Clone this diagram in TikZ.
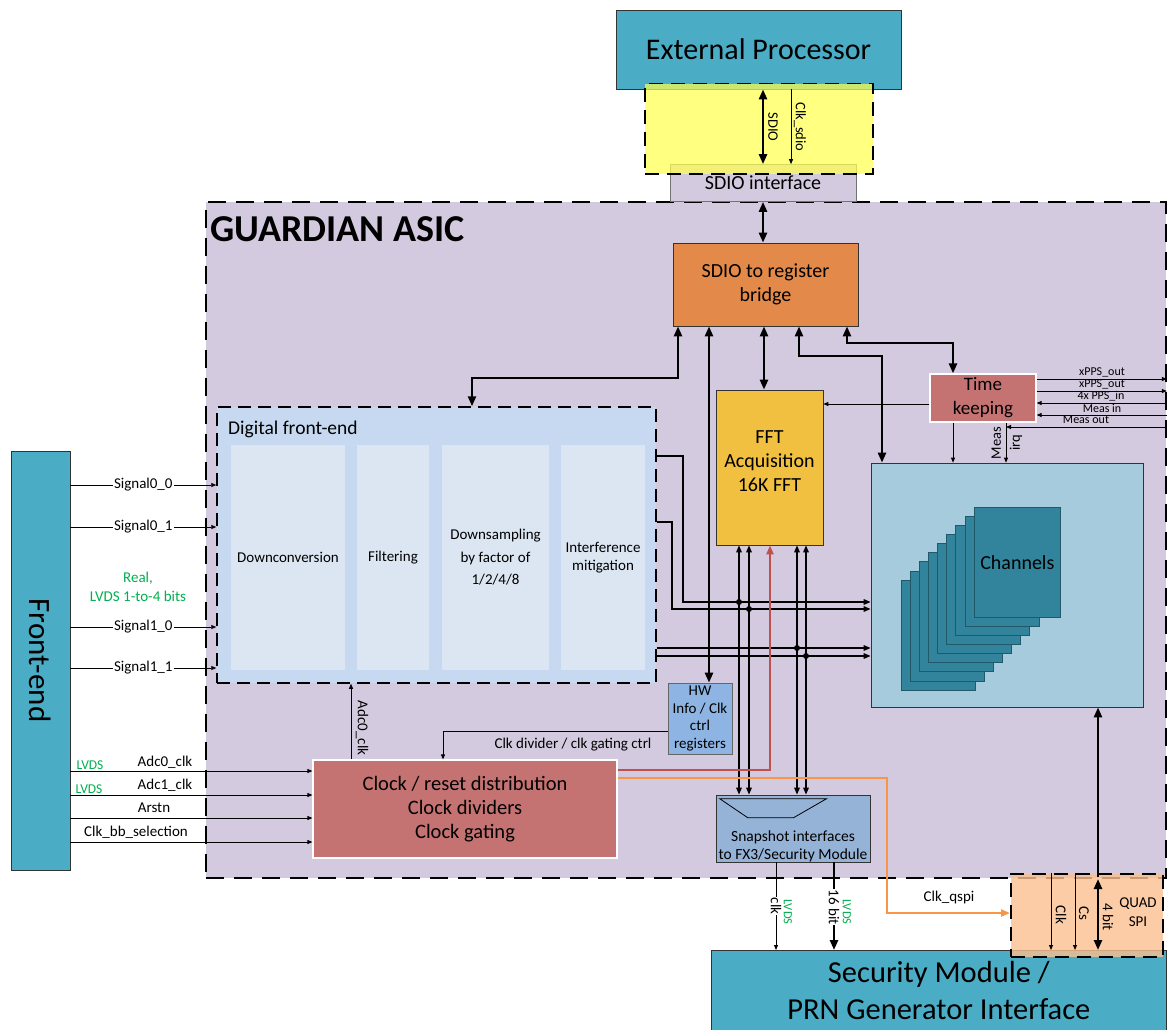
\documentclass[tikz,border=0pt]{standalone}
\usepackage{fontspec}
\setmainfont{Carlito}
\usetikzlibrary{arrows.meta,calc}
\newcommand\myfs[2]{\fontsize{#1}{#2}\selectfont}
\definecolor{teal1}{HTML}{4BACC6}
\definecolor{asic}{HTML}{D3CADF}
\definecolor{bridgeC}{HTML}{E38A4A}
\definecolor{fftC}{HTML}{F2C040}
\definecolor{timeC}{HTML}{C57372}
\definecolor{chanBg}{HTML}{A6CBDC}
\definecolor{chanPg}{HTML}{31849B}
\definecolor{chanPgD}{HTML}{215968}
\definecolor{dfeC}{HTML}{C6D9F0}
\definecolor{dfeIn}{HTML}{DCE6F2}
\definecolor{hwC}{HTML}{8DB4E2}
\definecolor{snapC}{HTML}{95B3D7}
\definecolor{grn}{HTML}{00B050}
\definecolor{redl}{HTML}{C0504D}
\definecolor{orl}{HTML}{F79646}
\definecolor{peach}{HTML}{FAC090}
\definecolor{ylw}{HTML}{FFFF50}
\begin{document}
\begin{tikzpicture}[x=1pt,y=-1pt,
 box/.style={rectangle, draw=black!80, line width=0.7pt, inner sep=0pt, align=center},
 thk/.style={line width=2.4pt, >={Triangle[length=10pt,width=8pt]}},
 med/.style={line width=1.5pt, >={Triangle[length=7pt,width=5.5pt]}},
 colln/.style={line width=2.2pt, >={Triangle[length=9pt,width=7pt]}},
 thn/.style={line width=0.8pt, >={Triangle[length=5pt,width=4pt]}},
 lbl/.style={inner sep=1pt, align=center},
 rlbl/.style={lbl, rotate=-90},
 page/.style={draw=chanPgD, fill=chanPg, line width=0.7pt},
 dsh/.style={draw=black, dash pattern=on 18pt off 10pt, line width=1.8pt},
 sig/.style={font=\myfs{15}{17}},
 gtxt/.style={text=grn, font=\myfs{13.5}{15}},
 rt/.style={font=\myfs{12}{13}, inner sep=0pt},
]
\useasboundingbox (0,0) rectangle (1167,1030);
\fill[white] (0,0) rectangle (1167,1030);

% ASIC region
\node[box, dsh, fill=asic, minimum width=960, minimum height=676, anchor=north west] (asic) at (205,201) {};
\node[anchor=base west, font=\bfseries\myfs{38}{42}, inner sep=0pt] (title) at (210,241) {GUARDIAN ASIC};

% External processor and SDIO interface
\node[box, fill=teal1, minimum width=285, minimum height=79, font=\myfs{30}{34}] (ext) at (758.5,49.5) {External Processor};
\node[box, draw=black!55, fill=asic, minimum width=186, minimum height=37, font=\myfs{20}{22}] (sdioif) at (763,183) {SDIO interface};
\node[box, draw=black, dash pattern=on 14pt off 8pt, line width=1.5pt, fill=ylw, fill opacity=0.72, minimum width=228, minimum height=90, anchor=north west] (ylwbox) at (644,83) {};
\draw[thk,<->] (ext.south -| sdioif.north) -- (sdioif.north);
\draw[thn,->] (ext.south -| 791,0) -- (sdioif.north -| 791,0);
\node[rlbl, font=\myfs{14.5}{16}] (lsdio) at (773,127) {SDIO};
\node[rlbl, font=\myfs{14.5}{16}] (lclks) at (800,127) {Clk\_sdio};

% SDIO bridge
\node[box, fill=bridgeC, minimum width=185, minimum height=83, font=\myfs{20}{24}] (bridge) at (765.5,284.5) {SDIO to register\\bridge};
\draw[thk,<->] (sdioif.south) -- (sdioif.south |- bridge.north);

% FFT
\node[box, fill=fftC, minimum width=107, minimum height=155] (fft) at (769.5,467.5) {};
\node[lbl, font=\myfs{20}{24}] (fftl) at (769.5,461) {FFT\\Acquisition\\16K FFT};

% Time keeping
\node[box, draw=white, line width=1.2pt, fill=timeC, minimum width=106, minimum height=48, font=\myfs{19}{24}] (tk) at (983,398) {Time\\keeping};

% Channels
\node[box, fill=chanBg, minimum width=272, minimum height=244] (chan) at (1007,585) {};
\foreach \i in {0,...,7}{\draw[page] ({901+9.125*\i},{580-9.125*\i}) rectangle ++(74,110);}
\node[page, minimum width=86, minimum height=110, anchor=north west, inner sep=0pt, font=\myfs{20}{22}] (chf) at (974,507) {Channels};

% Digital front-end
\node[box, draw=black, dash pattern=on 13pt off 7pt, line width=1.5pt, fill=dfeC, minimum width=439, minimum height=276] (dfe) at (436.5,545) {};
\node[anchor=base west, font=\myfs{19.5}{22}, inner sep=0pt] (dfet) at (228,434) {Digital front-end};
\node[box, draw=none, fill=dfeIn, minimum width=114, minimum height=225, font=\myfs{15}{18}] (dc) at (288,557.5) {Downconversion};
\node[box, draw=none, fill=dfeIn, minimum width=72, minimum height=225, font=\myfs{15}{18}] (fl) at (393,557.5) {Filtering};
\node[box, draw=none, fill=dfeIn, minimum width=107, minimum height=225, font=\myfs{15}{22.5}] (ds) at (495.5,557.5) {Downsampling\\by factor of\\1/2/4/8};
\node[box, draw=none, fill=dfeIn, minimum width=84, minimum height=225, font=\myfs{15}{18}] (im) at (603,557.5) {Interference\\mitigation};

% Front-end
\node[box, fill=teal1, minimum width=59, minimum height=419] (fe) at (40.5,660.5) {};
\node[rlbl, font=\myfs{31}{34}] (fel) at (40.5,660.5) {Front-end};

% Clock / reset
\node[box, draw=white, line width=1.2pt, fill=timeC, minimum width=304, minimum height=98, font=\myfs{20.5}{24}] (clk) at (465,809) {Clock / reset distribution\\Clock dividers\\Clock gating};

% HW info
\node[box, draw=black!60, fill=hwC, minimum width=64, minimum height=71, font=\myfs{15}{17.6}] (hw) at (700,718.5) {HW\\Info / Clk\\ctrl\\registers};

% Snapshot
\node[box, fill=snapC, minimum width=154, minimum height=67] (snap) at (793,828.5) {};
\draw[line width=0.8pt] ($(snap.north west)+(4,4)$) -- ++(107,0) -- ++(-33,19) -- ++(-46,0) -- cycle;
\node[lbl, font=\myfs{15.5}{18}] (snapl) at (793,846) {Snapshot interfaces\\to FX3/Security Module};

% Security module and QUAD SPI
\node[box, fill=teal1, minimum width=455, minimum height=80, anchor=north west, font=\myfs{30.5}{37}] (sec) at (711,950) {Security Module /\\PRN Generator Interface};
\node[box, draw=black, dash pattern=on 14pt off 8pt, line width=1.5pt, fill=peach, fill opacity=0.8, minimum width=152, minimum height=83, anchor=north west] (qspi) at (1010,873) {};
\node[lbl, font=\myfs{15}{19}] (qspil) at (1138,912) {QUAD\\SPI};

% ---- connectors from bridge
\draw[thk,<->] (bridge.south -| 678,0) -- (678,378) -| (dfe.north -| 472,0);
\draw[thk,<->] (bridge.south -| 709,0) -- (hw.north -| 709,0);
\draw[thk,<->] (bridge.south -| 764,0) -- (fft.north -| 764,0);
\draw[thk,<->] (bridge.south -| 799,0) |- (882,356) -- (chan.north -| 882,0);
\draw[thk,<->] (bridge.south -| 847,0) |- (953,343) -- (tk.north -| 953,0);

% time keeping
\draw[thn,->] (tk.west |- 0,404) -- (fft.east |- 0,404);
\draw[thn,->] (tk.south -| 953,0) -- (chan.north -| 953,0);
\draw[thn,->] (tk.south -| 1006,0) -- (chan.north -| 1006,0);
\node[lbl, rotate=90, font=\myfs{14.5}{19}] (lmirq) at (1007,443) {Meas\\irq};
\coordinate (mirq) at (1006,427);
\draw[thn,->] (tk.east |- 0,379) -- (asic.east |- 0,379);
\draw[thn,->] (tk.east |- 0,391) -- (asic.east |- 0,391);
\draw[thn,->] (asic.east |- 0,403) -- (tk.east |- 0,403);
\draw[thn,->] (asic.east |- 0,415) -- (tk.east |- 0,415);
\draw[thn,->] (asic.east |- 0,427) -- (mirq);
\node[rt] (l1) at (1102,372) {xPPS\_out};
\node[rt] (l2) at (1102,384) {xPPS\_out};
\node[rt] (l3) at (1101,396) {4x PPS\_in};
\node[rt] (l4) at (1102,408) {Meas in};
\node[rt] (l5) at (1086,420) {Meas out};

% DFE to channels
\draw[med,->] (dfe.east |- 0,456) -| (683,602) -- (chan.west |- 0,602);
\draw[med,->] (dfe.east |- 0,522) -| (672,609) -- (chan.west |- 0,609);
\draw[med,->] (dfe.east |- 0,648) -- (chan.west |- 0,648);
\draw[med,->] (dfe.east |- 0,656) -- (chan.west |- 0,656);

% FFT <-> snapshot
\foreach \xx in {739,749,797,806}{\draw[med,<->] (fft.south -| \xx,0) -- (snap.north -| \xx,0);}
\fill (739,602) circle (3) (749,609) circle (3) (797,648) circle (3) (806,656) circle (3);

% red and orange
\draw[colln, draw=redl, ->] (clk.east |- 0,770) -| (fft.south -| 770,0);
\draw[colln, draw=orl, ->] (clk.east |- 0,778) -| (887,913) -- (qspi.west |- 0,913);
\node[lbl, font=\myfs{15}{16}] (lqspi) at (949,897) {Clk\_qspi};

% HW to clock
\draw[thn,->] (hw.west |- 0,731) -| (clk.north -| 443,0);
\node[lbl, font=\myfs{15}{16}] (lcdiv) at (573,745) {Clk divider / clk gating ctrl};
\draw[thn,->] (clk.north -| 351,0) -- (dfe.south -| 351,0);
\node[rlbl, font=\myfs{15}{16}] (ladc) at (362,728) {Adc0\_clk};

% front-end signals
\draw[thn,->] (fe.east |- 0,485) -- (dfe.west |- 0,485) node[midway, fill=white, inner sep=1pt, sig] (s00) {Signal0\_0};
\draw[thn,->] (fe.east |- 0,527) -- (dfe.west |- 0,527) node[midway, fill=white, inner sep=1pt, sig] (s01) {Signal0\_1};
\draw[thn,->] (fe.east |- 0,627) -- (dfe.west |- 0,627) node[midway, fill=white, inner sep=1pt, sig] (s10) {Signal1\_0};
\draw[thn,->] (fe.east |- 0,668) -- (dfe.west |- 0,668) node[midway, fill=white, inner sep=1pt, sig] (s11) {Signal1\_1};
\node[lbl, text=grn, font=\myfs{15}{19}] (lreal) at (138,587) {Real,\\LVDS 1-to-4 bits};

\draw[thn,->] (fe.east |- 0,771) -- (clk.west |- 0,771);
\draw[thn,->] (fe.east |- 0,795) -- (clk.west |- 0,795);
\draw[thn,->] (fe.east |- 0,818) -- (clk.west |- 0,818);
\draw[thn,->] (fe.east |- 0,842) -- (clk.west |- 0,842);
\node[lbl, sig] (la0) at (165,762) {Adc0\_clk};
\node[lbl, sig] (la1) at (165,785) {Adc1\_clk};
\node[lbl, sig] (lar) at (154,808) {Arstn};
\node[lbl, sig] (lcb) at (136,832) {Clk\_bb\_selection};
\node[lbl, gtxt] (lg1) at (90,765) {LVDS};
\node[lbl, gtxt] (lg2) at (89,789) {LVDS};

% snapshot outputs
\draw[thn,->] (snap.south -| 776,0) -- (sec.north -| 776,0);
\draw[thk,->] (snap.south -| 834,0) -- (sec.north -| 834,0);
\node[rlbl, fill=white, font=\myfs{15}{16}] (lclk) at (776,906) {clk};
\node[rlbl, fill=white, font=\myfs{15}{16}] (l16) at (834,907) {16 bit};
\node[rlbl, gtxt, font=\myfs{12.5}{14}] (lg3) at (788,912) {LVDS};
\node[rlbl, gtxt, font=\myfs{12.5}{14}] (lg4) at (847,912) {LVDS};

% QUAD SPI internals
\draw[thn,->] (qspi.north -| 1051,0) -- (sec.north -| 1051,0);
\draw[thn,->] (qspi.north -| 1075,0) -- (sec.north -| 1075,0);
\draw[thk,<->] (sec.north -| 1098,0) -- ($(qspi.north -| 1098,0)+(0,6)$);
\draw[thk,->] ($(qspi.north -| 1098,0)+(0,4)$) -- (chan.south -| 1098,0);
\node[rlbl, font=\myfs{15}{16}] (lqclk) at (1061,915) {Clk};
\node[rlbl, font=\myfs{15}{16}] (lqcs) at (1084,913) {Cs};
\node[rlbl, font=\myfs{15}{16}] (lq4) at (1108,917) {4 bit};
\end{tikzpicture}
\end{document}
